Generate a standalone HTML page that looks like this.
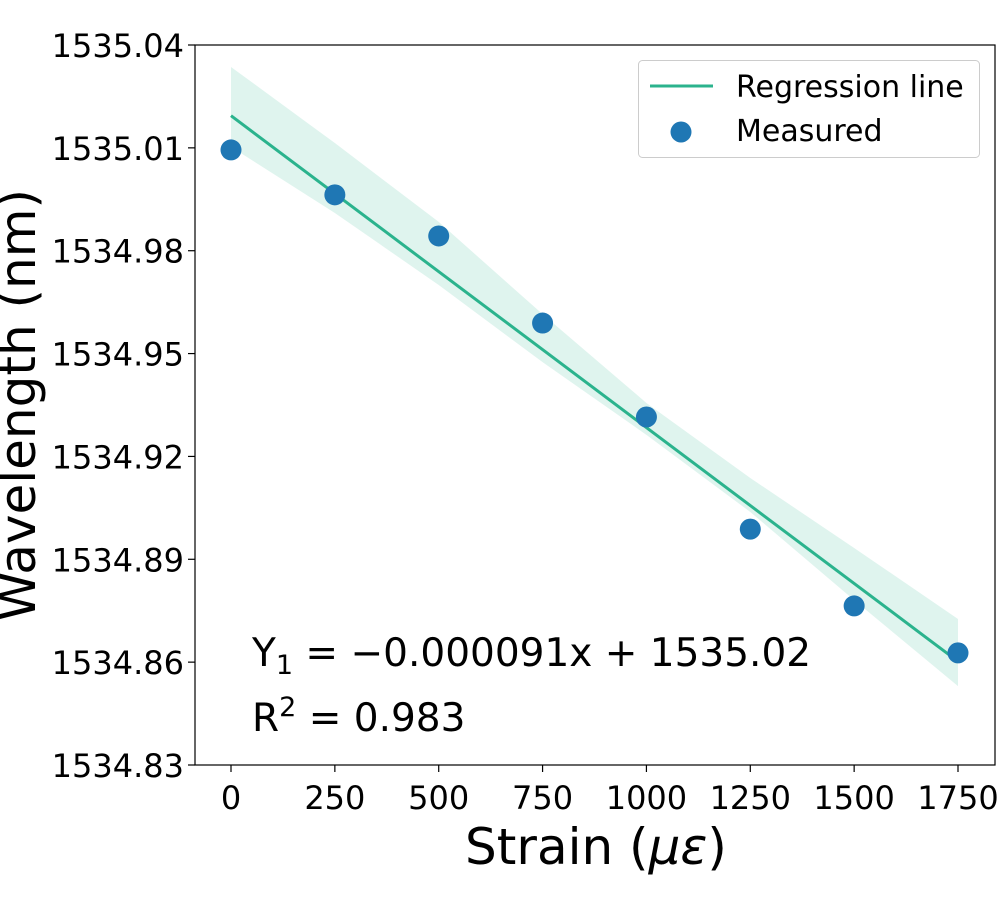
<!DOCTYPE html>
<html><head><meta charset="utf-8"><style>
body{margin:0;background:#fff}
svg text{font-family:"DejaVu Sans","Liberation Sans",sans-serif;fill:#000}
</style></head><body>
<svg id="chart" width="1000" height="900" xmlns="http://www.w3.org/2000/svg" style="position:absolute;left:0;top:0"></svg>
<script>
const strain = [0,250,500,750,1000,1250,1500,1750];
const wavelength = [1535.0094,1534.9963,1534.9843,1534.9589,1534.9315,1534.8988,1534.8764,1534.8627];
const ciUpper = [1535.0336,1535.0114,1534.9884,1534.9615,1534.9356,1534.9137,1534.8933,1534.8726];
const ciLower = [1535.0103,1534.9910,1534.9700,1534.9475,1534.9263,1534.9038,1534.8781,1534.8530];
const xTicks = [0,250,500,750,1000,1250,1500,1750];
const yTicks = [1534.83,1534.86,1534.89,1534.92,1534.95,1534.98,1535.01,1535.04];
const yTickLabels = ["1534.83","1534.86","1534.89","1534.92","1534.95","1534.98","1535.01","1535.04"];

const L=195,R=995,T=45,B=765;
const xs=v=>231+(v-0)*(958-231)/1750;
const ys=v=>T+(1535.04-v)*(B-T)/0.21;
const svg=document.getElementById('chart');
const NS='http://www.w3.org/2000/svg';
function mk(tag,attrs,parent){const e=document.createElementNS(NS,tag);for(const k in attrs)e.setAttribute(k,attrs[k]);(parent||svg).appendChild(e);return e;}

const n=strain.length,mx=strain.reduce((a,b)=>a+b)/n,my=wavelength.reduce((a,b)=>a+b)/n;
let sxy=0,sxx=0;for(let i=0;i<n;i++){sxy+=(strain[i]-mx)*(wavelength[i]-my);sxx+=(strain[i]-mx)**2;}
const slope=sxy/sxx,icpt=my-slope*mx;

let d='M'+strain.map((x,i)=>xs(x)+','+ys(ciUpper[i])).join(' L');
d+=' L'+strain.slice().reverse().map((x,j)=>xs(x)+','+ys(ciLower[n-1-j])).join(' L')+' Z';
const band=mk('path',{d:d,fill:'#2bb38d','fill-opacity':'0.15',stroke:'none'});



const line=mk('line',{x1:xs(0),y1:ys(icpt),x2:xs(1750),y2:ys(icpt+slope*1750),stroke:'#2bb38d','stroke-width':3});



strain.forEach((x,i)=>{
  const c=mk('circle',{cx:xs(x),cy:ys(wavelength[i]),r:10.5,fill:'#1f77b4'});
  
  
});

const fr=mk('rect',{x:L,y:T,width:R-L,height:B-T,fill:'none',stroke:'#000','stroke-width':1.2});



xTicks.forEach(v=>{
  const tk=mk('line',{x1:xs(v),y1:B,x2:xs(v),y2:B+7,stroke:'#000','stroke-width':1.2});
  
  
  const t=mk('text',{x:xs(v),y:B+44,'font-size':32,'text-anchor':'middle'});
  t.textContent=v;
  
  
});
yTicks.forEach((v,i)=>{
  const tk=mk('line',{x1:L-7,y1:ys(v),x2:L,y2:ys(v),stroke:'#000','stroke-width':1.2});
  
  
  const t=mk('text',{x:L-11,y:ys(v)+12,'font-size':32,'text-anchor':'end'});
  t.textContent=yTickLabels[i];
  
  
});
</script>
<svg style="position:absolute;left:0;top:0" width="1000" height="900" xmlns="http://www.w3.org/2000/svg">
<text x="596" y="864" font-size="50" text-anchor="middle">Strain (<tspan font-style="italic">με</tspan>)</text>
<text transform="translate(35,405) rotate(-90)" font-size="50" text-anchor="middle">Wavelength (nm)</text>
<text x="252" y="666" font-size="39">Y<tspan font-size="27" dy="8">1</tspan><tspan dy="-8"> = −0.000091x + 1535.02</tspan></text>
<text x="252" y="731" font-size="39">R<tspan font-size="27" dy="-15">2</tspan><tspan dy="15"> = 0.983</tspan></text>
<g>
<rect x="638.5" y="60.5" width="341" height="97" rx="4" fill="#fff" fill-opacity="0.8" stroke="#ccc"/>
<line x1="650" y1="86" x2="713" y2="86" stroke="#2bb38d" stroke-width="3"/>
<text x="736" y="97" font-size="30">Regression line</text>
<circle cx="681" cy="132" r="10.5" fill="#1f77b4"/>
<text x="736" y="141" font-size="30">Measured</text>
</g>
</svg>
</body></html>
